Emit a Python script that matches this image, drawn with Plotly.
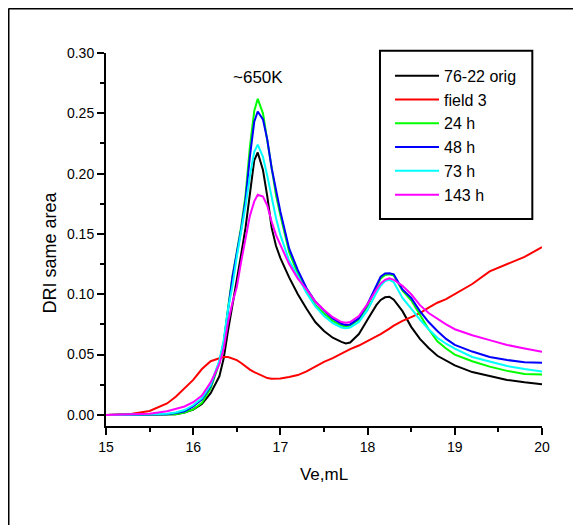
import plotly.graph_objects as go

# Elution volume grid (mL)
ve = [15.0, 15.3, 15.5, 15.7, 15.8, 15.9, 16.0, 16.1, 16.2, 16.3, 16.35, 16.4, 16.45, 16.5,
      16.55, 16.6, 16.65, 16.7, 16.74, 16.8, 16.85, 16.9, 16.95, 17.0, 17.1, 17.2, 17.3, 17.4,
      17.5, 17.6, 17.7, 17.75, 17.8, 17.9, 18.0, 18.1, 18.15, 18.2, 18.25, 18.3, 18.4, 18.5,
      18.6, 18.7, 18.8, 18.9, 19.0, 19.2, 19.4, 19.6, 19.8, 20.0]

orig_76_22 = [0, 0, 0, 0, 0.0005, 0.002, 0.0045, 0.009, 0.018, 0.032, 0.047, 0.070, 0.090, 0.110,
              0.133, 0.155, 0.185, 0.211, 0.2175, 0.203, 0.181, 0.155, 0.140, 0.130, 0.114, 0.100,
              0.088, 0.077, 0.0695, 0.064, 0.0605, 0.0593, 0.060, 0.067, 0.079, 0.091, 0.0953,
              0.0975, 0.098, 0.0955, 0.086, 0.073, 0.063, 0.0555, 0.049, 0.045, 0.041, 0.0355,
              0.032, 0.029, 0.027, 0.0255]

field_3 = [0, 0.001, 0.0033, 0.0095, 0.015, 0.022, 0.029, 0.038, 0.0445, 0.047, 0.048, 0.048,
           0.047, 0.0454, 0.043, 0.040, 0.0375, 0.0355, 0.034, 0.032, 0.0305, 0.030, 0.030,
           0.0302, 0.0315, 0.033, 0.036, 0.040, 0.044, 0.047, 0.051, 0.053, 0.0545, 0.0575,
           0.061, 0.065, 0.067, 0.069, 0.0715, 0.074, 0.078, 0.081, 0.0844, 0.089, 0.093, 0.096,
           0.100, 0.1085, 0.119, 0.125, 0.131, 0.139]

h24 = [0, 0, 0, 0, 0.0005, 0.002, 0.0045, 0.010, 0.022, 0.043, 0.060, 0.089, 0.115, 0.135,
       0.156, 0.182, 0.222, 0.252, 0.262, 0.250, 0.228, 0.203, 0.182, 0.1655, 0.135, 0.117,
       0.102, 0.091, 0.084, 0.078, 0.074, 0.0732, 0.074, 0.079, 0.090, 0.106, 0.113, 0.116,
       0.1165, 0.1155, 0.103, 0.095, 0.083, 0.071, 0.061, 0.055, 0.050, 0.0445, 0.040, 0.0365,
       0.034, 0.0335]

h48 = [0, 0, 0, 0.0005, 0.0015, 0.003, 0.007, 0.013, 0.024, 0.044, 0.060, 0.088, 0.114, 0.134,
       0.154, 0.178, 0.214, 0.243, 0.2515, 0.245, 0.228, 0.2045, 0.185, 0.1685, 0.138, 0.120,
       0.105, 0.094, 0.0865, 0.080, 0.0755, 0.0745, 0.075, 0.080, 0.092, 0.108, 0.1146, 0.1172,
       0.1174, 0.1165, 0.104, 0.097, 0.086, 0.077, 0.0695, 0.063, 0.058, 0.0525, 0.048,
       0.0455, 0.0437, 0.0432]

h73 = [0, 0, 0.0005, 0.001, 0.002, 0.004, 0.008, 0.014, 0.025, 0.045, 0.062, 0.088, 0.107,
       0.131, 0.152, 0.173, 0.198, 0.218, 0.224, 0.214, 0.198, 0.180, 0.163, 0.149, 0.128,
       0.115, 0.101, 0.090, 0.082, 0.076, 0.0725, 0.0718, 0.0725, 0.077, 0.087, 0.101, 0.107,
       0.111, 0.112, 0.110, 0.097, 0.088, 0.079, 0.071, 0.064, 0.059, 0.055, 0.048, 0.044,
       0.0405, 0.038, 0.036]

h143 = [0, 0.0005, 0.001, 0.003, 0.0053, 0.007, 0.0105, 0.016, 0.027, 0.042, 0.055, 0.077,
        0.093, 0.106, 0.127, 0.145, 0.165, 0.177, 0.1825, 0.181, 0.1735, 0.160, 0.149, 0.141,
        0.125, 0.113, 0.104, 0.094, 0.087, 0.081, 0.077, 0.0765, 0.077, 0.082, 0.092, 0.104,
        0.109, 0.112, 0.1133, 0.112, 0.107, 0.100, 0.091, 0.0845, 0.0795, 0.075, 0.071, 0.066,
        0.062, 0.058, 0.055, 0.0523]

series_names = ["76-22 orig", "field 3", "24 h", "48 h", "73 h", "143 h"]
series_values = [orig_76_22, field_3, h24, h48, h73, h143]
series_colors = ["#000000", "#FF0000", "#00FF00", "#0000FF", "#00FFFF", "#FF00FF"]

x_ticks = [15, 16, 17, 18, 19, 20]
y_ticks = [0.00, 0.05, 0.10, 0.15, 0.20, 0.25, 0.30]
y_tick_text = ["0.00", "0.05", "0.10", "0.15", "0.20", "0.25", "0.30"]

FONT = "Liberation Sans, Arial, sans-serif"

fig = go.Figure()
for name, vals, col in zip(series_names, series_values, series_colors):
    fig.add_trace(go.Scatter(x=ve, y=vals, mode="lines", name=name,
                             line=dict(color=col, width=2)))

axis_common = dict(showline=True, linecolor="black", linewidth=2, mirror=False,
                   showgrid=False, zeroline=False, ticks="outside", tickcolor="black",
                   tickwidth=2, ticklen=7, automargin=False,
                   tickfont=dict(family=FONT, size=14, color="#000"))

fig.update_xaxes(range=[15, 20], tickvals=x_ticks, ticktext=[str(v) for v in x_ticks],
                 minor=dict(dtick=0.5, ticks="outside", ticklen=4, tickwidth=2, tickcolor="black"),
                 title=dict(text="Ve,mL", font=dict(family=FONT, size=17, color="#000"), standoff=14),
                 **axis_common)
fig.update_yaxes(range=[-0.0092, 0.30], tickvals=y_ticks, ticktext=y_tick_text,
                 minor=dict(dtick=0.025, ticks="outside", ticklen=4, tickwidth=2, tickcolor="black"),
                 **axis_common)

# y-axis title (placed slightly below the axis centre, as in the original)
fig.add_annotation(x=-0.1284, y=0.4654, xref="paper", yref="paper", text="DRI same area",
                   showarrow=False, textangle=-90, xanchor="center", yanchor="middle",
                   font=dict(family=FONT, size=18, color="#000"))

fig.add_annotation(x=16.74, y=0.2795, xref="x", yref="y", text="~650K", showarrow=False,
                   font=dict(family=FONT, size=17, color="#000"), xanchor="center", yanchor="middle")

# legend frame
fig.add_shape(type="rect", xref="paper", yref="paper", x0=0.6284, x1=0.9778, y0=0.555, y1=1.0062,
              line=dict(color="black", width=2), fillcolor="rgba(0,0,0,0)")
# outer page frame (top and left edges)
fig.add_shape(type="line", xref="paper", yref="paper", x0=-0.2236, x1=1.2, y0=1.1193, y1=1.1193,
              line=dict(color="black", width=2))
fig.add_shape(type="line", xref="paper", yref="paper", x0=-0.2236, x1=-0.2236, y0=-0.3, y1=1.1193,
              line=dict(color="black", width=2))

fig.update_layout(
    width=581, height=525,
    margin=dict(l=98, r=47, t=45, b=107),
    paper_bgcolor="white", plot_bgcolor="white",
    font=dict(family=FONT, color="#000"),
    showlegend=True,
    legend=dict(x=0.6514, y=0.9846, xanchor="left", yanchor="top",
                bgcolor="rgba(0,0,0,0)", borderwidth=0,
                font=dict(family=FONT, size=16, color="#000"),
                itemwidth=44, tracegroupgap=0),
)

fig.write_html("out.html")
